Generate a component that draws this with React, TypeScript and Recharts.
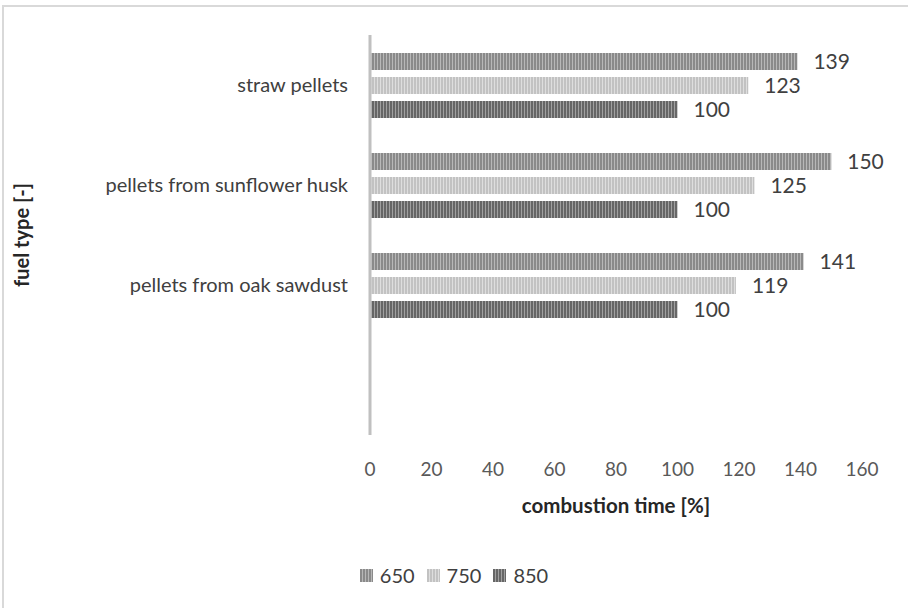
import React from "react";
import { BarChart, Bar, XAxis, YAxis, LabelList, Legend } from "recharts";

// Czas spalania względem 850 (=100%), trzy temperatury.
const categories = ["straw pellets", "pellets from sunflower husk", "pellets from oak sawdust", ""];
const t650 = [139, 150, 141, null];
const t750 = [123, 125, 119, null];
const t850 = [100, 100, 100, null];
const xTicks = [0, 20, 40, 60, 80, 100, 120, 140, 160];

const SERIES = [
  { key: "t650", label: "650", fill: "url(#p650)" },
  { key: "t750", label: "750", fill: "url(#p750)" },
  { key: "t850", label: "850", fill: "url(#p850)" },
];

const data = categories.map((name, i) => ({ name, t650: t650[i], t750: t750[i], t850: t850[i] }));

const FONT = "Lato, 'Liberation Sans', sans-serif";

function Patterns() {
  const stripe = (id: string, dark: string, light: string) => (
    <pattern id={id} width={3} height={4} patternUnits="userSpaceOnUse">
      <rect width={3} height={4} fill={light} />
      <rect width={2} height={4} fill={dark} />
    </pattern>
  );
  return (
    <svg width={0} height={0} style={{ position: "absolute" }}>
      <defs>
        {stripe("p650", "#8a8a8a", "#b8b8b8")}
        {stripe("p750", "#c2c2c2", "#dedede")}
        {stripe("p850", "#666666", "#a0a0a0")}
      </defs>
    </svg>
  );
}

function LegendBox() {
  return (
    <div style={{ display: "flex", justifyContent: "center", gap: 12, fontFamily: FONT, fontSize: 20, color: "#404040" }}>
      {SERIES.map((s) => (
        <div key={s.key} style={{ display: "flex", alignItems: "center", gap: 7 }}>
          <svg width={13} height={13}><rect width={13} height={13} fill={s.fill} /></svg>
          <span>{s.label}</span>
        </div>
      ))}
    </div>
  );
}

export default function App() {
  const fmt = (v: unknown) => (v == null ? "" : String(v));
  return (
    <div style={{ position: "absolute", left: 0, top: 0, width: 908, height: 608, overflow: "hidden", background: "#fff" }}>
      <Patterns />
      <div style={{ position: "absolute", left: 2, top: 5, width: 950, height: 650, borderTop: "2px solid #d9d9d9", borderLeft: "2px solid #d9d9d9" }} />
      <div style={{ position: "absolute", left: 0, top: 0 }}>
        <BarChart
          width={908}
          height={608}
          data={data}
          layout="vertical"
          margin={{ top: 35, right: 46, bottom: 0, left: 0 }}
          barCategoryGap={18}
          barGap={7}
        >
          <XAxis
            type="number"
            domain={[0, 160]}
            ticks={xTicks}
            axisLine={false}
            tickLine={false}
            tickSize={0}
            tickMargin={28}
            height={173}
            tick={{ fontSize: 19, fill: "#595959", fontFamily: FONT }}
            label={{ value: "combustion time [%]", position: "insideTop", offset: 63, style: { fontSize: 20.5, fontWeight: 700, fill: "#262626", fontFamily: FONT } }}
          />
          <YAxis
            type="category"
            dataKey="name"
            width={370}
            axisLine={{ stroke: "#c0c0c0", strokeWidth: 3 }}
            tickLine={false}
            tickSize={0}
            tickMargin={22}
            interval={0}
            tick={{ fontSize: 20, fill: "#404040", fontFamily: FONT }}
            label={{ value: "fuel type [-]", angle: -90, position: "insideLeft", offset: 22, style: { fontSize: 20, fontWeight: 700, fill: "#262626", fontFamily: FONT, textAnchor: "middle" } }}
          />
          <Legend layout="horizontal" verticalAlign="middle" align="center" content={<LegendBox />} wrapperStyle={{ left: 0, top: 563, width: 908 }} />
          {SERIES.map((s) => (
            <Bar key={s.key} dataKey={s.key} name={s.label} fill={s.fill} isAnimationActive={false}>
              <LabelList dataKey={s.key} position="right" offset={16} formatter={fmt} style={{ fontSize: 21, fill: "#404040", fontFamily: FONT }} />
            </Bar>
          ))}
        </BarChart>
      </div>
    </div>
  );
}
